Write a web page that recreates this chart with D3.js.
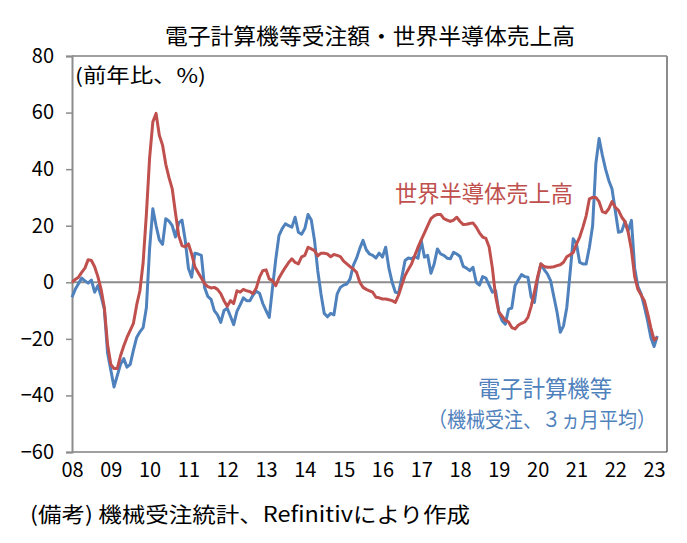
<!DOCTYPE html>
<html>
<head>
<meta charset="utf-8">
<script src="https://cdn.jsdelivr.net/npm/d3@7"></script>
<style>
  body { margin: 0; background: #fff; }
  svg { display: block; font-family: "Noto Sans CJK JP", "Noto Sans", sans-serif; }
</style>
</head>
<body>
<svg id="chart" width="687" height="543"></svg>
<script>
// monthly, 2008/01 - 2023/02 (yoy %)
var yearLabels = ['08', '09', '10', '11', '12', '13', '14', '15', '16', '17', '18', '19', '20', '21', '22', '23'];
var yTicks = [80, 60, 40, 20, 0, -20, -40, -60];

// 電子計算機等 (機械受注、3ヵ月平均)
var computerOrders = [
  -5.3, -2.5, -0.5, 1.5, 0.5, -0.3, 0.8, -3.5, -1.2, -5, -9.5, -25,
  -31, -37, -33, -29, -27, -30, -29, -24, -19.5, -17.5, -16, -9,
  12, 26, 20, 15, 13.4, 22.5, 21.6, 20, 16, 21, 22, 15,
  5, 1.8, 10.3, 10, 9.5, -1.8, -5, -6, -10, -11.5, -14.2, -10,
  -9.2, -12, -15, -10.3, -8, -5.5, -6.5, -6.5, -4.5, -3.2, -3.9, -7.5,
  -10, -12.4, -2, 8, 16.5, 19, 20.7, 20, 19.5, 23, 17.7, 17,
  19, 24, 22, 14.8, 4.1, -4.1, -11, -12.2, -11, -11.5, -4.1, -1.8,
  -1, -0.6, 1.2, 6, 8.5, 12, 14.8, 11.5, 10, 9.5, 8.6, 10.3,
  8.9, 12.4, 5, 0, -3.5, -3.9, 1.8, 7.7, 8.6, 8.3, 9.1, 8.5,
  14.8, 8.9, 9.5, 3.2, 6.5, 11.8, 10, 9.5, 8.5, 8.3, 10.6, 10,
  9.1, 5.6, 5, 4.1, 5.3, 0, -1, 2, 1.5, -1, -3.5, -3,
  -10.6, -13.6, -14.8, -9.5, -9.1, -1.2, 0.8, 2.7, 2, 1.8, -5.3, -7.1,
  1.2, 6.5, 4.5, 3, 0.6, -5, -10.6, -17.7, -15.4, -9, 3, 15.4,
  13.6, 7, 6.5, 6.5, 12.4, 20, 42, 50.8, 45, 40, 36, 33,
  25.4, 17.7, 18, 21.5, 18.3, 21.9, 5, -1.5, -4.1, -8.6, -13.6, -19.5,
  -22.7, -19
];

// 世界半導体売上高
var chipSales = [
  0, 1, 1.8, 3.5, 5, 8, 7.7, 5.5, 2, -2.5, -9, -22,
  -29, -30.5, -30.5, -26, -22.5, -19.5, -17, -14.5, -8, -3, 7, 24,
  44, 56.7, 59.7, 52, 48.5, 41.7, 37, 33, 24.5, 16.5, 13, 12.5,
  13.6, 10, 5.5, 3.5, 1.5, -0.5, -1.5, -2, -1.8, -2.5, -4, -6.5,
  -8.5, -6.5, -7.5, -3, -3.5, -2.5, -3, -3.3, -4, -2, 1.8, 4.1,
  4.4, 1.2, 0.6, -1.2, 1.5, 3.5, 5.3, 7, 8.3, 7, 6.5, 9,
  9.5, 12.4, 11.8, 11.2, 9.3, 10.3, 10.3, 10, 9, 9.8, 9.5, 9.1,
  7.5, 6.5, 5.5, 4.7, 3.5, 0, -1.8, -2.5, -3, -3.5, -5.3, -5.5,
  -5.9, -5.9, -6.2, -6.5, -7.1, -4.5, -1, 2.4, 4.5, 6.5, 9.5, 12.4,
  15, 17.5, 20, 22.5, 23.5, 24, 24, 22.5, 22, 21.5, 22, 23,
  21.5, 20.4, 20.5, 20.8, 21, 19.5, 17.5, 16, 15.5, 12.5, 5, -5,
  -10.5, -12, -13.5, -14, -16, -16.5, -15.2, -14.5, -14, -12.4, -8.5, -3.5,
  2, 6.5, 5.6, 5.3, 5.3, 5.5, 5.9, 6.2, 7.1, 9, 9.7, 10.5,
  13.5, 16, 19.5, 23.5, 29.5, 30, 30, 28.5, 25, 24.5, 26, 28.5,
  26.5, 25.4, 23, 21.5, 17.7, 11.5, 2, -2.5, -4.5, -6.5, -11, -16,
  -20.4, -19.5
];

var plot = { left: 72, right: 667, top: 56, bottom: 452 };
var red = '#C0504D';
var blue = '#4F81BD';

var svg = d3.select('#chart');

var x = d3.scaleLinear().domain([0, 184]).range([plot.left, plot.right]);
var y = d3.scaleLinear().domain([-60, 80]).range([plot.bottom, plot.top]);

function label(txt, px, py, len, size, color) {
  return svg.append('text')
    .attr('x', px).attr('y', py)
    .attr('textLength', len).attr('lengthAdjust', 'spacingAndGlyphs')
    .style('font-size', size + 'px').attr('fill', color)
    .text(txt);
}

// title
label('電子計算機等受注額・世界半導体売上高', 165, 44, 410, 22, '#000');

// frame
svg.append('line')
  .attr('x1', plot.left).attr('x2', plot.right)
  .attr('y1', plot.top).attr('y2', plot.top)
  .attr('stroke', '#404040').attr('stroke-width', 1);
svg.append('line')
  .attr('x1', plot.right).attr('x2', plot.right)
  .attr('y1', plot.top).attr('y2', plot.bottom)
  .attr('stroke', '#8c8c8c').attr('stroke-width', 2);
svg.append('line')
  .attr('x1', plot.left).attr('x2', plot.right)
  .attr('y1', plot.bottom).attr('y2', plot.bottom)
  .attr('stroke', '#404040').attr('stroke-width', 1);

// y axis
var yAxis = d3.axisLeft(y).tickValues(yTicks).tickSize(6).tickPadding(12);
var gy = svg.append('g')
  .attr('transform', 'translate(' + plot.left + ',0)')
  .call(yAxis);
gy.select('.domain').attr('stroke', '#8c8c8c').attr('stroke-width', 2);
gy.selectAll('.tick line').attr('stroke', '#8c8c8c').attr('stroke-width', 1.5);
gy.selectAll('.tick text')
  .style('font-size', '20px').style('font-family', '"Noto Sans CJK JP", sans-serif')
  .attr('fill', '#000');

// zero line
svg.append('line')
  .attr('x1', plot.left).attr('x2', plot.right)
  .attr('y1', y(0)).attr('y2', y(0))
  .attr('stroke', '#8c8c8c').attr('stroke-width', 2);

// x labels (year start)
var xAxis = d3.axisBottom(x)
  .tickValues(d3.range(yearLabels.length).map(function(i) { return i * 12; }))
  .tickFormat(function(d) { return yearLabels[d / 12]; })
  .tickSize(0).tickPadding(11);
var gx = svg.append('g')
  .attr('transform', 'translate(0,' + plot.bottom + ')')
  .call(xAxis);
gx.select('.domain').remove();
gx.selectAll('.tick text')
  .style('font-size', '20px').style('font-family', '"Noto Sans CJK JP", sans-serif')
  .attr('fill', '#000');

// lines
var line = d3.line()
  .x(function(d, i) { return x(i); })
  .y(function(d) { return y(d); });

svg.append('path')
  .datum(computerOrders)
  .attr('d', line)
  .attr('fill', 'none')
  .attr('stroke', blue).attr('stroke-width', 3)
  .attr('stroke-linejoin', 'round');

svg.append('path')
  .datum(chipSales)
  .attr('d', line)
  .attr('fill', 'none')
  .attr('stroke', red).attr('stroke-width', 3)
  .attr('stroke-linejoin', 'round');

// annotations
label('(前年比、%)', 75, 83, 131, 20, '#000');
label('世界半導体売上高', 395, 202, 178, 23, red);
label('電子計算機等', 478, 397, 134, 23, blue);
label('（機械受注、３ヵ月平均）', 428, 427, 228, 21, blue);

// note
label('(備考) 機械受注統計、Refinitivにより作成', 30, 522, 440, 21, '#000');
</script>
</body>
</html>
